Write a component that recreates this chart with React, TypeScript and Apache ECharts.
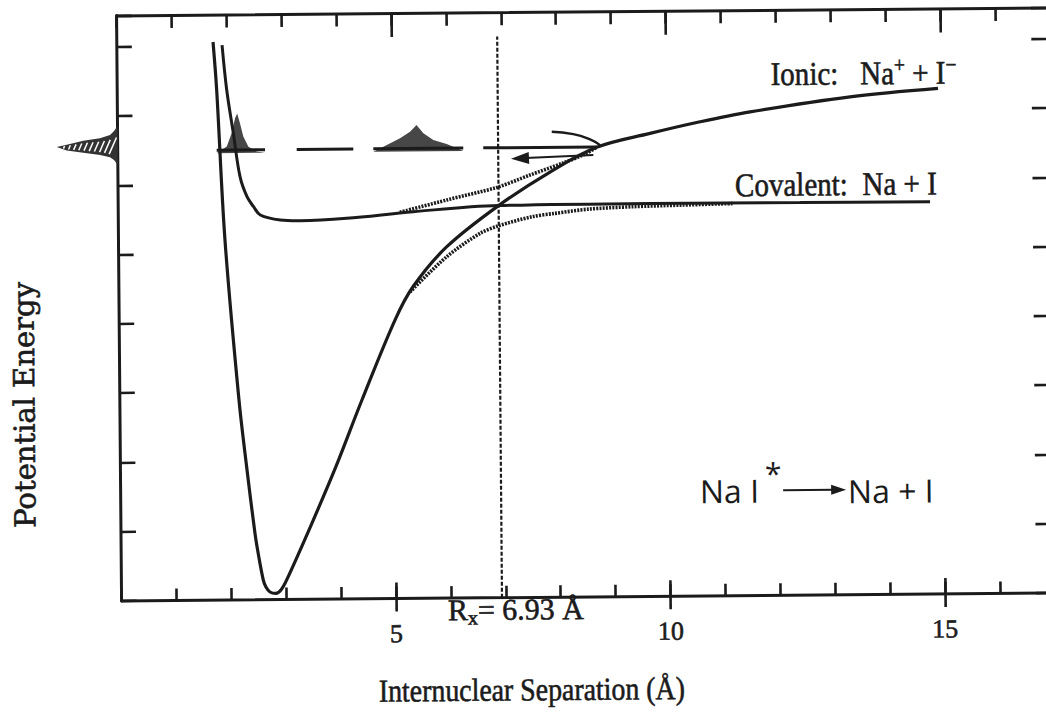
import React, { useEffect, useRef } from "react";
import * as echarts from "echarts";

// ---------- data (R in Å, E in arbitrary tick units) ----------
const ionicR = [1.753, 1.812, 1.94, 2.17, 2.299, 2.44, 2.492, 2.584, 2.632, 2.705, 2.812, 2.905, 3.011, 3.481, 3.925, 4.41, 5.024, 5.357, 5.98, 6.93, 7.871, 8.725, 9.699, 10.612, 11.525, 13.348, 14.951];
const ionicE = [8.055, 7.362, 5.196, 2.886, 1.922, 0.964, 0.69, 0.286, 0.183, 0.111, 0.089, 0.139, 0.283, 1.101, 1.911, 2.87, 4.02, 4.499, 5.072, 5.66, 6.137, 6.488, 6.682, 6.844, 6.981, 7.185, 7.296];

const covalentR = [1.917, 1.995, 2.109, 2.224, 2.348, 2.466, 2.587, 2.951, 3.315, 4.16, 5.373, 6.93, 9.687, 12.419, 14.789];
const covalentE = [8.01, 7.361, 6.735, 6.108, 5.818, 5.673, 5.553, 5.478, 5.465, 5.494, 5.581, 5.66, 5.672, 5.665, 5.66];

const upperAdiabR = [5.13, 5.985, 6.902, 7.505, 8.093, 8.512, 8.725];
const upperAdiabE = [5.575, 5.746, 5.922, 6.096, 6.261, 6.392, 6.488];

const lowerAdiabR = [5.302, 5.977, 6.589, 6.929, 7.537, 7.956, 8.572, 9.361, 10.271, 11.2];
const lowerAdiabE = [4.423, 4.928, 5.261, 5.368, 5.494, 5.54, 5.597, 5.626, 5.644, 5.66];

const crossingR = 6.93;
const crossingTop = 8.1;

const probeE = 6.494;
const probeSegments = [
  [1.803, 2.683],
  [3.26, 4.292],
  [4.656, 6.295],
  [6.659, 8.725],
];

const packet1R = [1.803, 1.987, 2.078, 2.142, 2.182, 2.231, 2.29, 2.381, 2.532, 2.683];
const packet1E = [6.45, 6.544, 6.737, 6.951, 7.02, 6.879, 6.686, 6.54, 6.47, 6.45];
const packet2R = [4.656, 4.902, 5.144, 5.328, 5.446, 5.57, 5.75, 5.993, 6.297];
const packet2E = [6.45, 6.547, 6.642, 6.736, 6.831, 6.711, 6.613, 6.553, 6.45];

const pumpR = [0, -0.064, -0.138, -0.321, -0.625, -0.927, -1.111, -0.929, -0.627, -0.322, -0.142, -0.069, 0];
const pumpE = [6.854, 6.782, 6.724, 6.68, 6.647, 6.592, 6.56, 6.509, 6.473, 6.439, 6.403, 6.366, 6.291];

const arcR = [7.909, 8.301, 8.605, 8.787];
const arcE = [6.718, 6.682, 6.603, 6.519];
const arrowFrom = [8.663, 6.377];
const arrowTo = [7.326, 6.338];

const xMajor = [5, 10, 15];
const X_MAX = 16.95;
const Y_MAX = 8.45;

const ionicLabel = "{m|Ionic:   Na}{p|+}{m| + I}{p|−}";
const covalentLabel = "Covalent:  Na + I";
const crossingLabel = "{m|R}{s|x}{m|= 6.93 Å}";
const xTitle = "Internuclear Separation (Å)";
const yTitle = "Potential Energy";

// ---------- styling ----------
const INK = "#1b1b1b";
const SERIF = '"Liberation Serif", "Times New Roman", serif';
const WIDE_SERIF = '"DejaVu Serif", serif';
const SANS = '"Open Sans", "DejaVu Sans", sans-serif';
const BOLDEN = { stroke: INK, lineWidth: 0.6 };

const pairs = (xs: number[], ys: number[]) => xs.map((x, i) => [x, ys[i]]);

function interpEdge(edge: number[][], x: number) {
  for (let i = 0; i < edge.length - 1; i++) {
    const a = edge[i], b = edge[i + 1];
    if ((x >= a[0] && x <= b[0]) || (x <= a[0] && x >= b[0])) {
      const t = b[0] === a[0] ? 0 : (x - a[0]) / (b[0] - a[0]);
      return a[1] + t * (b[1] - a[1]);
    }
  }
  return edge[edge.length - 1][1];
}

function hatchLines(pts: number[][]) {
  const tip = Math.floor(pts.length / 2);
  const upper = pts.slice(0, tip + 1).reverse();
  const lower = pts.slice(tip);
  const x0 = pts[tip][0];
  const x1 = pts[0][0];
  const out: any[] = [];
  const n = 10;
  for (let i = 0; i < n; i++) {
    const x = x0 + (x1 - x0) * (0.12 + (0.8 * i) / (n - 1));
    const yu = interpEdge(upper, x);
    const yl = interpEdge(lower, x);
    const cy = (yu + yl) / 2;
    const h = ((yl - yu) / 2) * 0.62;
    out.push({
      type: "line",
      shape: { x1: x - h * 0.45, y1: cy + h, x2: x + h * 0.45, y2: cy - h },
      style: { stroke: "#ffffff", lineWidth: 1.5 },
    });
  }
  return out;
}

function shapeSeries(xs: number[], ys: number[], fill: string, hatch: boolean) {
  const data = pairs(xs, ys);
  return {
    type: "custom",
    clip: false,
    silent: true,
    z: 3,
    data,
    renderItem: (params: any, api: any) => {
      if (params.dataIndex !== 0) return null;
      const pts = data.map((d) => api.coord(d));
      const children: any[] = [{ type: "polygon", shape: { points: pts }, style: { fill } }];
      if (hatch) children.push(...hatchLines(pts));
      return { type: "group", children };
    },
  };
}

function lineSeries(xs: number[], ys: number[], lineStyle: any, smooth: number | boolean, z = 2) {
  return {
    type: "line",
    data: pairs(xs, ys),
    symbol: "none",
    smooth,
    silent: true,
    z,
    lineStyle: { color: INK, ...lineStyle },
  };
}

function buildOption(): any {
  const tickStyle = { color: INK, width: 2.6 };
  const axisBase = {
    type: "value",
    min: 0,
    splitLine: { show: false },
    axisLabel: { show: false },
  };
  const xBase = { ...axisBase, max: X_MAX };
  const yBase = { ...axisBase, max: Y_MAX };

  const series: any[] = [
    shapeSeries(pumpR, pumpE, "#333333", true),
    lineSeries(upperAdiabR, upperAdiabE, { width: 3.6, type: [2, 1.2] }, 0.3),
    lineSeries(lowerAdiabR, lowerAdiabE, { width: 3.6, type: [2, 1.2] }, 0.3),
    lineSeries(ionicR, ionicE, { width: 3.2 }, 0.35, 4),
    lineSeries(covalentR, covalentE, { width: 3 }, 0.35, 4),
    lineSeries([crossingR, crossingR], [0, crossingTop], { width: 2.2, type: [4, 2] }, false, 3),
    ...probeSegments.map((seg) => lineSeries(seg, [probeE, probeE], { width: 3 }, false, 3)),
    shapeSeries(packet1R, packet1E, "#474747", false),
    shapeSeries(packet2R, packet2E, "#474747", false),
    {
      ...lineSeries(arcR, arcE, { width: 2.4 }, 0.5, 4),
      markLine: {
        silent: true,
        symbol: ["none", "triangle"],
        symbolSize: [12, 18],
        label: { show: false },
        lineStyle: { color: INK, width: 2, type: "solid" },
        data: [[{ coord: arrowFrom }, { coord: arrowTo }]],
      },
    },
  ];

  const serifRich = {
    m: { fontFamily: SERIF, fontSize: 33, fill: INK, lineHeight: 38, ...BOLDEN },
    p: { fontFamily: SERIF, fontSize: 22, fill: INK, lineHeight: 20, verticalAlign: "top", ...BOLDEN },
  };

  const graphic = [
    {
      type: "text", x: 773, y: 76.1, scaleX: 0.88, silent: true,
      style: { text: ionicLabel, align: "left", verticalAlign: "middle", rich: serifRich, fill: INK },
    },
    {
      type: "text", x: 736.4, y: 186.8, scaleX: 0.88, silent: true,
      style: { text: covalentLabel, fontFamily: SERIF, fontSize: 33, fill: INK, align: "left", verticalAlign: "middle", ...BOLDEN },
    },
    {
      type: "text", x: 698.7, y: 492.3, silent: true,
      style: { text: "Na I", fontFamily: SANS, fontSize: 32, fill: INK, align: "left", verticalAlign: "middle" },
    },
    {
      type: "text", x: 764, y: 475.6, silent: true,
      style: { text: "*", fontFamily: SANS, fontSize: 30, fill: INK, align: "left", verticalAlign: "middle" },
    },
    {
      type: "line", silent: true,
      shape: { x1: 782, y1: 492.5, x2: 833, y2: 492.5 },
      style: { stroke: INK, lineWidth: 2 },
    },
    {
      type: "polygon", silent: true,
      shape: { points: [[830, 487.5], [845, 492.5], [830, 497.5]] },
      style: { fill: INK },
    },
    {
      type: "text", x: 846.8, y: 493.4, silent: true,
      style: { text: "Na + I", fontFamily: SANS, fontSize: 32, fill: INK, align: "left", verticalAlign: "middle" },
    },
    {
      type: "text", x: 445.7, y: 609, silent: true,
      style: {
        text: crossingLabel, align: "left", verticalAlign: "middle", fill: INK,
        rich: {
          m: { fontFamily: SERIF, fontSize: 30, fill: INK, lineHeight: 36, ...BOLDEN },
          s: { fontFamily: SERIF, fontSize: 20, fill: INK, lineHeight: 24, verticalAlign: "bottom", ...BOLDEN },
        },
      },
    },
    {
      type: "text", x: 529, y: 689.2, scaleX: 0.87, silent: true,
      style: { text: xTitle, fontFamily: SERIF, fontSize: 32, fill: INK, align: "center", verticalAlign: "middle", ...BOLDEN },
    },
    {
      type: "text", x: 24.1, y: 400.7, rotation: Math.PI / 2, silent: true,
      style: { text: yTitle, fontFamily: WIDE_SERIF, fontSize: 29, fill: INK, align: "center", verticalAlign: "middle", ...BOLDEN },
    },
  ];

  return {
    animation: false,
    backgroundColor: "#ffffff",
    grid: { left: 119.5, top: 12, width: 930.5, height: 585.5, containLabel: false, outerBoundsMode: "none" },
    xAxis: [
      {
        ...xBase, position: "bottom", interval: 1,
        axisLine: { show: true, onZero: false, lineStyle: { color: INK, width: 3 } },
        axisTick: { show: true, inside: true, length: 12, lineStyle: tickStyle },
      },
      {
        ...xBase, position: "bottom", interval: 5,
        axisLine: { show: false, onZero: false },
        axisTick: { show: true, inside: false, length: 13, customValues: xMajor, lineStyle: tickStyle },
        axisLabel: {
          show: true, customValues: xMajor, margin: 22, fontFamily: SERIF, fontSize: 26, color: INK,
          textBorderColor: INK, textBorderWidth: 0.6,
          formatter: (v: number) => String(v),
        },
      },
      {
        ...xBase, position: "bottom", interval: 5,
        axisLine: { show: false, onZero: false },
        axisTick: { show: true, inside: true, length: 16, customValues: xMajor, lineStyle: tickStyle },
      },
      {
        ...xBase, position: "top", interval: 1,
        axisLine: { show: true, onZero: false, lineStyle: { color: INK, width: 3 } },
        axisTick: { show: true, inside: true, length: 13, lineStyle: tickStyle },
      },
      {
        ...xBase, position: "top", interval: 5,
        axisLine: { show: false, onZero: false },
        axisTick: { show: true, inside: true, length: 24, customValues: xMajor, lineStyle: tickStyle },
      },
    ],
    yAxis: [
      {
        ...yBase, position: "left", interval: 1,
        axisLine: { show: true, onZero: false, lineStyle: { color: INK, width: 3 } },
        axisTick: { show: true, inside: true, length: 15, lineStyle: tickStyle },
      },
      {
        ...yBase, position: "right", interval: 1,
        axisLine: { show: false, onZero: false },
        axisTick: { show: true, inside: true, length: 16, lineStyle: tickStyle },
      },
    ],
    series,
    graphic: { elements: graphic },
  };
}

export default function App() {
  const ref = useRef<HTMLDivElement>(null);
  useEffect(() => {
    if (!ref.current) return;
    const chart = echarts.init(ref.current, undefined, { renderer: "svg" });
    chart.setOption(buildOption());
    return () => chart.dispose();
  }, []);
  return (
    <div
      style={{
        position: "fixed", left: 0, top: 0, width: 1046, height: 715,
        overflow: "hidden", background: "#ffffff",
      }}
    >
      <div
        ref={ref}
        style={{
          position: "absolute", left: 0, top: 0, width: 1070, height: 715,
          transform: "rotate(-0.49deg)", transformOrigin: "523px 357.5px",
        }}
      />
    </div>
  );
}
